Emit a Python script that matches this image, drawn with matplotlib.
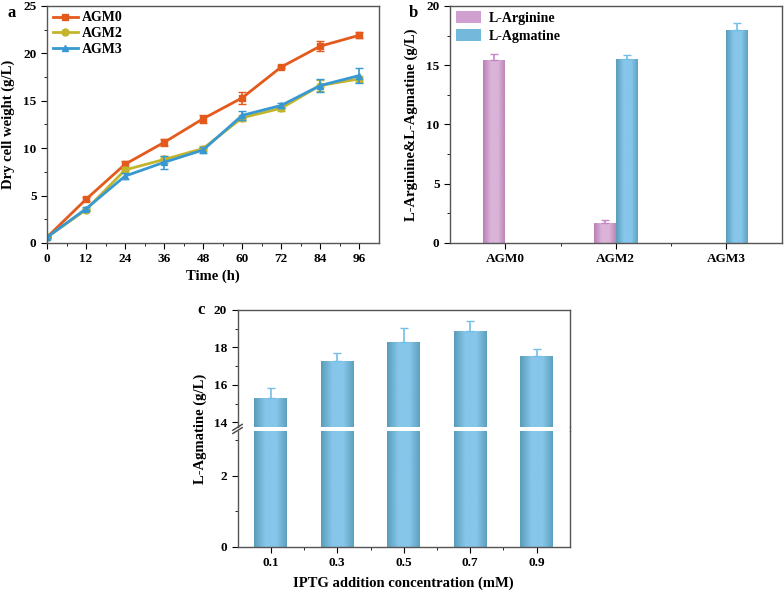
import numpy as np
import matplotlib.pyplot as plt
from matplotlib.colors import LinearSegmentedColormap

plt.rcParams['font.family'] = ['Liberation Serif', 'DejaVu Serif']
plt.rcParams['font.weight'] = 'bold'
plt.rcParams['axes.labelweight'] = 'bold'

# panel a data
time_h = [0, 12, 24, 36, 48, 60, 72, 84, 96]
agm0 = [0.6, 4.6, 8.3, 10.6, 13.1, 15.3, 18.55, 20.75, 21.9]
agm0_err = [0.1, 0.2, 0.35, 0.4, 0.4, 0.6, 0.1, 0.5, 0.3]
agm2 = [0.6, 3.5, 7.7, 8.8, 9.95, 13.2, 14.2, 16.6, 17.3]
agm2_err = [0.1, 0.15, 0.3, 0.35, 0.3, 0.3, 0.25, 0.6, 0.35]
agm3 = [0.6, 3.6, 7.05, 8.5, 9.8, 13.45, 14.5, 16.6, 17.65]
agm3_err = [0.1, 0.15, 0.3, 0.7, 0.35, 0.5, 0.3, 0.7, 0.75]

# panel b data
strains = ['AGM0', 'AGM2', 'AGM3']
arginine = [15.4, 1.65, 0.0]
arginine_err = [0.55, 0.25, 0.0]
agmatine = [0.0, 15.5, 17.95]
agmatine_err = [0.0, 0.35, 0.6]

# panel c data
iptg = ['0.1', '0.3', '0.5', '0.7', '0.9']
agm_iptg = [15.3, 17.25, 18.3, 18.9, 17.55]
agm_iptg_err = [0.55, 0.45, 0.75, 0.5, 0.35]

blue_cmap = LinearSegmentedColormap.from_list('bl', ['#5a9dba', '#86c6ea', '#86c6ea', '#5a9dba'])
pink_cmap = LinearSegmentedColormap.from_list('pk', ['#bb7fb5', '#dab3d8', '#dab3d8', '#bb7fb5'])
grad = np.linspace(0, 1, 64).reshape(1, -1)


def shade_bars(ax, bars, cmap):
    # gradient fill clipped to each bar (and still to the axes)
    for b in bars:
        if b.get_height() <= 0:
            continue
        x0, y0 = b.get_x(), b.get_y()
        im = ax.imshow(grad, cmap=cmap, aspect='auto', zorder=2,
                       extent=[x0, x0 + b.get_width(), y0, y0 + b.get_height()])
        im.set_clip_path(b.get_path(), b.get_transform())
        b.set_facecolor('none')


def style(ax):
    for s in ax.spines.values():
        s.set_color('#555555')
        s.set_linewidth(1.0)
    ax.tick_params(which='both', direction='out', top=False, right=False, labelsize=9.5)
    ax.tick_params(which='major', length=4)
    ax.tick_params(which='minor', length=2.5)


fig = plt.figure(figsize=(7.84, 5.91), dpi=100)

# ---- a
ax1 = fig.add_axes([0.060, 0.589, 0.423, 0.401])
for y, e, c, m, lab in [(agm0, agm0_err, '#e35a1c', 's', 'AGM0'),
                        (agm2, agm2_err, '#c3b52b', 'o', 'AGM2'),
                        (agm3, agm3_err, '#3798d2', '^', 'AGM3')]:
    ax1.errorbar(time_h, y, yerr=e, fmt='none', ecolor=c, capsize=3, elinewidth=1.2)
    ax1.plot(time_h, y, color=c, marker=m, markersize=5, lw=2, label=lab)
ax1.set_xlim(0, 102)
ax1.set_ylim(0, 25)
ax1.set_xticks(time_h)
ax1.set_xticks(np.arange(6, 102, 12), minor=True)
ax1.set_yticks([0, 5, 10, 15, 20, 25])
ax1.set_yticks(np.arange(2.5, 25, 5), minor=True)
ax1.set_xlabel('Time (h)', fontsize=10.5, labelpad=3)
ax1.set_ylabel('Dry cell weight (g/L)', fontsize=10.5, labelpad=6)
ax1.legend(loc='upper left', frameon=False, fontsize=10, handlelength=1.8,
           handletextpad=0.3, borderaxespad=0.0, labelspacing=0.2)
style(ax1)
fig.text(0.010, 0.972, 'a', fontsize=12, fontweight='bold')

# ---- b
ax2 = fig.add_axes([0.574, 0.589, 0.423, 0.401])
xb = np.arange(len(strains))
w = 0.2
b1 = ax2.bar(xb - w / 2, arginine, w, color='#d0a0d0', zorder=2)
b2 = ax2.bar(xb + w / 2, agmatine, w, color='#78bfe3', zorder=2)
for xs, v, e, c in [(xb - w / 2, arginine, arginine_err, '#c487c4'),
                    (xb + w / 2, agmatine, agmatine_err, '#74bfe8')]:
    for xi, vi, ei in zip(xs, v, e):
        if vi > 0:
            ax2.errorbar(xi, vi, yerr=[[0], [ei]], color=c, capsize=3, elinewidth=1.2, zorder=3)
shade_bars(ax2, b1, pink_cmap)
shade_bars(ax2, b2, blue_cmap)
ax2.set_xlim(-0.5, 2.5)
ax2.set_ylim(0, 20)
ax2.set_xticks(xb)
ax2.set_xticklabels(strains)
ax2.set_xticks([0.5, 1.5], minor=True)
ax2.set_yticks([0, 5, 10, 15, 20])
ax2.set_yticks(np.arange(2.5, 20, 5), minor=True)
ax2.set_ylabel('L-Arginine&L-Agmatine (g/L)', fontsize=10.5, labelpad=6)
h1 = plt.Rectangle((0, 0), 1, 1, facecolor='#cf9fcf', edgecolor='none')
h2 = plt.Rectangle((0, 0), 1, 1, facecolor='#74b8dc', edgecolor='none')
ax2.legend([h1, h2], ['L-Arginine', 'L-Agmatine'], loc='upper left', frameon=False,
           fontsize=10, handlelength=1.8, handleheight=0.9, handletextpad=0.6,
           borderaxespad=0.0, labelspacing=0.3)
style(ax2)
fig.text(0.522, 0.972, 'b', fontsize=12, fontweight='bold')

# ---- c (broken axis)
cu = fig.add_axes([0.303, 0.2775, 0.424, 0.198])
cl = fig.add_axes([0.303, 0.0745, 0.424, 0.196])
xc = np.arange(len(iptg))
for ax in (cu, cl):
    bars = ax.bar(xc, agm_iptg, 0.5, color='#78bfe3', zorder=2)
    ax.errorbar(xc, agm_iptg, yerr=[np.zeros(len(xc)), agm_iptg_err], fmt='none',
                ecolor='#74bfe8', capsize=3, elinewidth=1.2, zorder=3)
    shade_bars(ax, bars, blue_cmap)
    ax.set_xlim(-0.5, 4.5)
    style(ax)
cu.set_ylim(13.75, 20)
cu.set_yticks([14, 16, 18, 20])
cu.set_yticks([15, 17, 19], minor=True)
cu.spines['bottom'].set_visible(False)
cu.tick_params(axis='x', which='both', bottom=False, labelbottom=False)
cl.set_ylim(0, 3.25)
cl.set_yticks([0, 2])
cl.set_yticks([1, 3], minor=True)
cl.spines['top'].set_visible(False)
cl.set_xticks(xc)
cl.set_xticklabels(iptg)
cl.set_xticks(xc[:-1] + 0.5, minor=True)
cl.set_xlabel('IPTG addition concentration (mM)', fontsize=10.5, labelpad=5)

# break marks on left spine, right spine kept continuous
d = 0.006
kw = dict(transform=fig.transFigure, color='#444444', lw=1, clip_on=False)
for yy in (0.2715, 0.2770):
    fig.add_artist(plt.Line2D([0.303 - d, 0.303 + d], [yy - 0.005, yy + 0.005], **kw))
fig.add_artist(plt.Line2D([0.727, 0.727], [0.2700, 0.2780], transform=fig.transFigure,
                          color='#555555', lw=1.0))

fig.text(0.255, 0.275, 'L-Agmatine (g/L)', rotation=90, fontsize=10.5,
         fontweight='bold', ha='center', va='center')
fig.text(0.252, 0.468, 'c', fontsize=12, fontweight='bold')

fig.savefig('out.png', dpi=100)
